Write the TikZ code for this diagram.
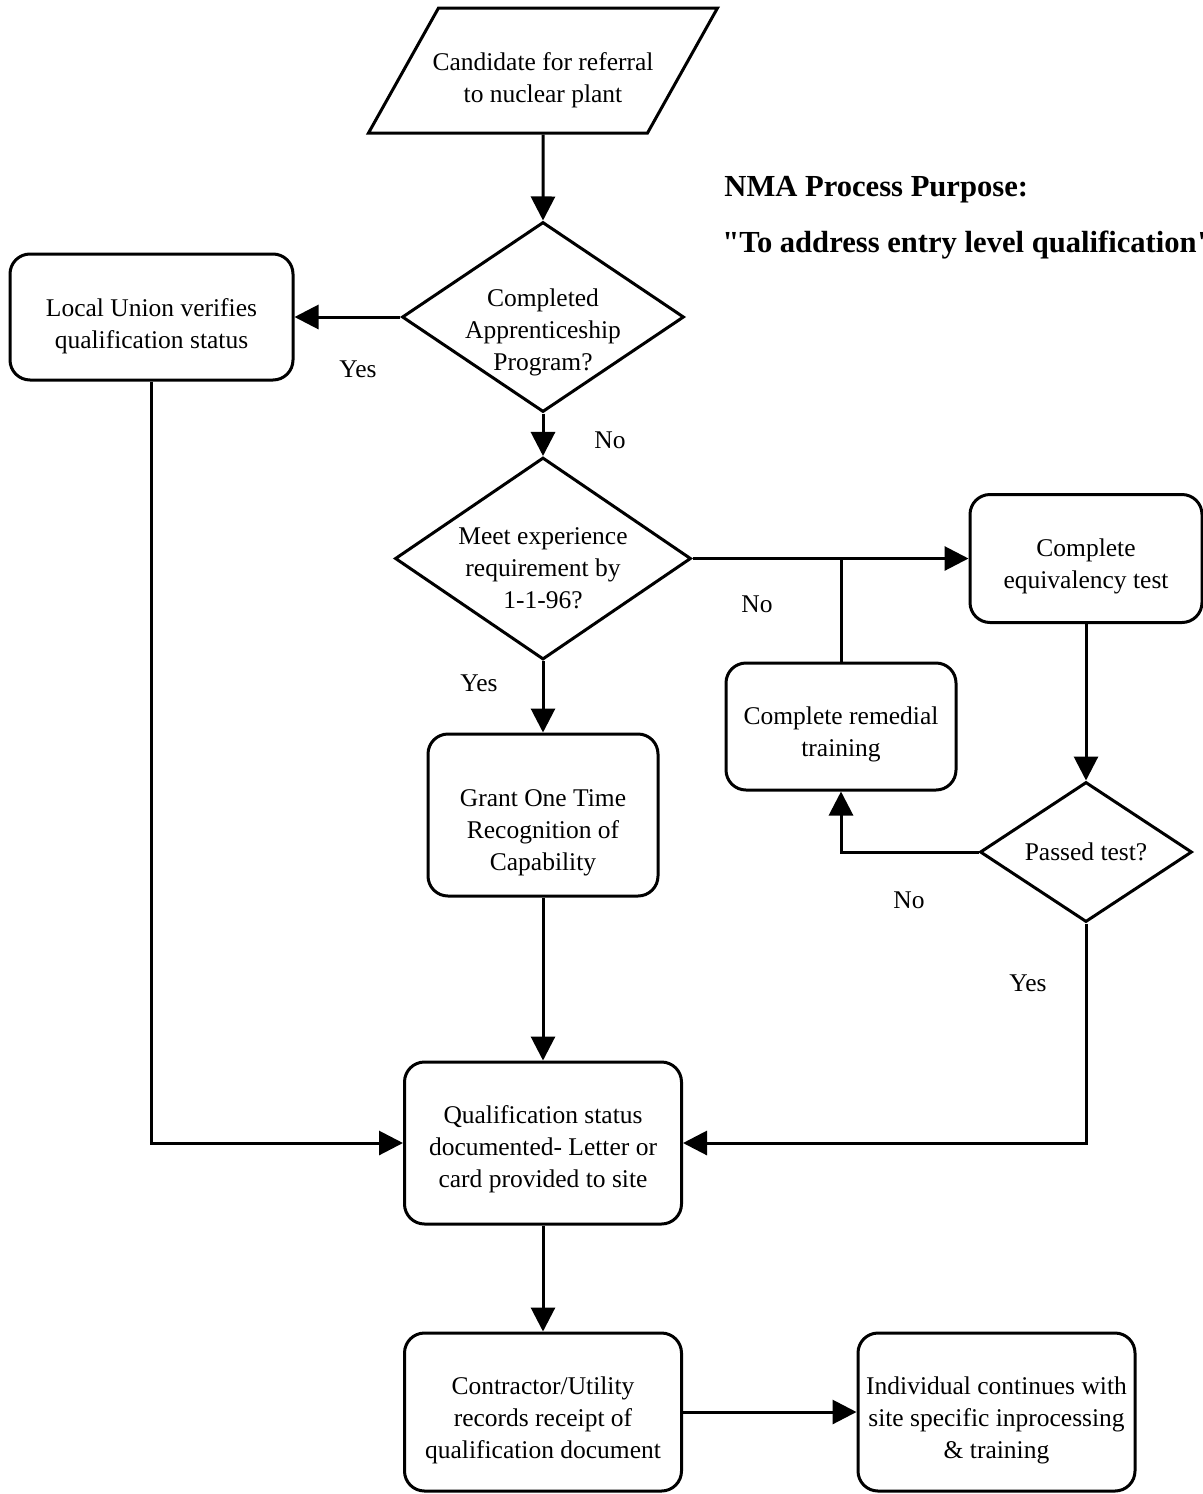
\documentclass[tikz,border=0pt]{standalone}
\usepackage{fontspec}
\setmainfont{Liberation Serif}
\newfontfamily\notefont{Liberation Serif}
\usetikzlibrary{shapes.geometric, arrows.meta}

\tikzset{
  txt/.style={font=\fontsize{12.75}{16}\selectfont, align=center, inner sep=0pt},
  base/.style={draw, line width=1.5pt, inner sep=0pt},
  io/.style={base, trapezium, trapezium left angle=60.75, trapezium right angle=119.25},
  box/.style={base, rectangle, rounded corners=10pt},
  decision/.style={base, diamond},
  note/.style={font=\notefont\bfseries\fontsize{15.3}{18}\selectfont, anchor=west, inner sep=0pt},
  flow/.style={-{Triangle[length=12pt, width=12pt]}, line width=1.5pt},
  link/.style={line width=1.5pt}
}

\begin{document}
\begin{tikzpicture}[x=0.5pt, y=-0.5pt]
  \useasboundingbox (0,0) rectangle (1203,1494);

  % start
  \node[io, text width=104.5pt, text height=62.5pt, text depth=0pt, label={[txt, yshift=-5pt]center:{Candidate for referral\\to nuclear plant}}] (cand) at (543,70.5) {};

  % decisions
  \node[decision, minimum width=141pt, minimum height=95pt, label={[txt, yshift=-7.5pt]center:{Completed\\Apprenticeship\\Program?}}] (appr) at (543,317) {};
  \node[decision, minimum width=148pt, minimum height=101pt, label={[txt, yshift=-5pt]center:{Meet experience\\requirement by\\1-1-96?}}] (exper) at (543,558.5) {};
  \node[decision, minimum width=106pt, minimum height=70pt, label={[txt]center:{Passed test?}}] (passed) at (1086,852) {};

  % process boxes
  \node[box, minimum width=141.5pt, minimum height=63pt, label={[txt, yshift=-4.5pt]center:{Local Union verifies\\qualification status}}] (union) at (151.5,317) {};
  \node[box, minimum width=116pt, minimum height=64pt, label={[txt, yshift=-4pt]center:{Complete\\equivalency test}}] (equiv) at (1086,558.5) {};
  \node[box, minimum width=115pt, minimum height=63.5pt, label={[txt, yshift=-4pt]center:{Complete remedial\\training}}] (remed) at (841,726.5) {};
  \node[box, minimum width=115pt, minimum height=81pt, label={[txt, yshift=-9pt]center:{Grant One Time\\Recognition of\\Capability}}] (grant) at (543,815) {};
  \node[box, minimum width=138.5pt, minimum height=81pt, label={[txt, yshift=-3pt]center:{Qualification status\\documented- Letter or\\card provided to site}}] (qual) at (543,1143) {};
  \node[box, minimum width=138.5pt, minimum height=79pt, label={[txt, yshift=-4pt]center:{Contractor/Utility\\records receipt of\\qualification document}}] (contr) at (543,1412) {};
  \node[box, minimum width=138.5pt, minimum height=79pt, label={[txt, yshift=-4pt]center:{Individual continues with\\site specific inprocessing\\\& training}}] (indiv) at (996.5,1412) {};

  % purpose
  \node[note] (title) at (724,190) {NMA Process Purpose:};
  \node[note] (purpose) at (722,245) {"To address entry level qualification"};

  % answers
  \node[txt] (yes1) at (358,369) {Yes};
  \node[txt] (no1) at (610,440) {No};
  \node[txt] (no2) at (757,604) {No};
  \node[txt] (yes2) at (479,683) {Yes};
  \node[txt] (no3) at (909,900) {No};
  \node[txt] (yes3) at (1028,983) {Yes};

  % connectors
  \draw[flow] (cand) -- (appr);
  \draw[flow] (appr) -- (union);
  \draw[flow] (appr) -- (exper);
  \draw[flow] (exper) -- (equiv);
  \draw[link] (remed.north) -- (remed.north |- exper.east);
  \draw[flow] (equiv) -- (passed);
  \draw[flow] (passed.west) -| (remed.south);
  \draw[flow] (passed.south) |- (qual.east);
  \draw[flow] (exper) -- (grant);
  \draw[flow] (grant) -- (qual);
  \draw[flow] (union.south) |- (qual.west);
  \draw[flow] (qual) -- (contr);
  \draw[flow] (contr) -- (indiv);
\end{tikzpicture}
\end{document}
